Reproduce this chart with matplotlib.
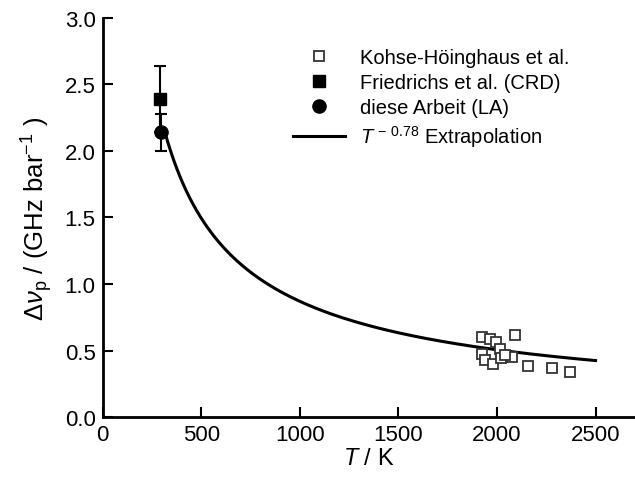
import numpy as np
import matplotlib
matplotlib.use("Agg")
import matplotlib.pyplot as plt
from matplotlib.container import ErrorbarContainer

plt.rcParams['font.family'] = ['Liberation Sans', 'DejaVu Sans']
plt.rcParams['mathtext.fontset'] = 'custom'
plt.rcParams['mathtext.rm'] = 'Liberation Sans'
plt.rcParams['mathtext.it'] = 'Liberation Sans:italic'
plt.rcParams['mathtext.bf'] = 'Liberation Sans:bold'

# Kohse-Höinghaus et al.
kh_T = [1926, 1965, 1993, 2091, 1922, 1939, 1981, 2015, 2020, 2077, 2155, 2279, 2369, 2040]
kh_v = [0.606, 0.589, 0.568, 0.621, 0.476, 0.431, 0.401, 0.514, 0.446, 0.456, 0.383, 0.371, 0.343, 0.47]
# Friedrichs et al. (CRD)
fr_T = [289]
fr_v = [2.39]
fr_err = [0.25]
# diese Arbeit (LA)
la_T = [294]
la_v = [2.14]
la_err = [0.14]
# extrapolation T^-0.78
ext_exp = -0.78
ext_ref_T = 2500
ext_ref_v = 0.426
ext_T_range = (310, 2500)

xticks = [0, 500, 1000, 1500, 2000, 2500]
yticks = [0.0, 0.5, 1.0, 1.5, 2.0, 2.5, 3.0]

fig = plt.figure(figsize=(6.35, 4.85), dpi=100)
ax = fig.add_axes([0.1617, 0.1375, 0.8383, 0.824])

T = np.linspace(ext_T_range[0], ext_T_range[1], 400)
ax.plot(T, ext_ref_v * (T / ext_ref_T) ** ext_exp, color='black', lw=2.2,
        label=r'$T^{\,-\,0.78}$ Extrapolation', zorder=2)

ax.plot(kh_T, kh_v, linestyle='none', marker='s', markersize=7.5,
        markerfacecolor='white', markeredgecolor='#333333', markeredgewidth=1.3,
        label='Kohse-Höinghaus et al.', zorder=3)
ax.errorbar(fr_T, fr_v, yerr=fr_err, fmt='s', color='black', markersize=9,
            capsize=4, elinewidth=1.5, capthick=1.5,
            label='Friedrichs et al. (CRD)', zorder=4)
ax.errorbar(la_T, la_v, yerr=la_err, fmt='o', color='black', markersize=9.5,
            capsize=4, elinewidth=1.5, capthick=1.5,
            label='diese Arbeit (LA)', zorder=5)

ax.set_xlim(0, 2700)
ax.set_ylim(0, 3.0)
ax.set_xticks(xticks)
ax.set_yticks(yticks)
ax.set_yticklabels([f'{v:.1f}' for v in yticks])
ax.tick_params(direction='in', length=7, width=1.5, labelsize=16, pad=5)
for s in ['top', 'right']:
    ax.spines[s].set_visible(False)
for s in ['left', 'bottom']:
    ax.spines[s].set_linewidth(2.0)

ax.set_xlabel(r'$T$ / K', fontsize=17, labelpad=1)
ax.set_ylabel(r'$\Delta\nu_{\mathrm{p}}$ / (GHz bar$^{-1}$ )', fontsize=18.5, labelpad=7)

h, l = ax.get_legend_handles_labels()
order = [1, 2, 3, 0]
handles = []
for i in order:
    hh = h[i]
    if isinstance(hh, ErrorbarContainer):
        hh = hh[0]
    handles.append(hh)
leg = fig.legend(handles, [l[i] for i in order], loc='upper left',
                 bbox_to_anchor=(293 / 635, 1 - 49 / 485), frameon=False, fontsize=14.5,
                 handlelength=2.6, handletextpad=0.75, labelspacing=0.3,
                 borderpad=0, borderaxespad=0)

fig.savefig('out.png', dpi=100)
